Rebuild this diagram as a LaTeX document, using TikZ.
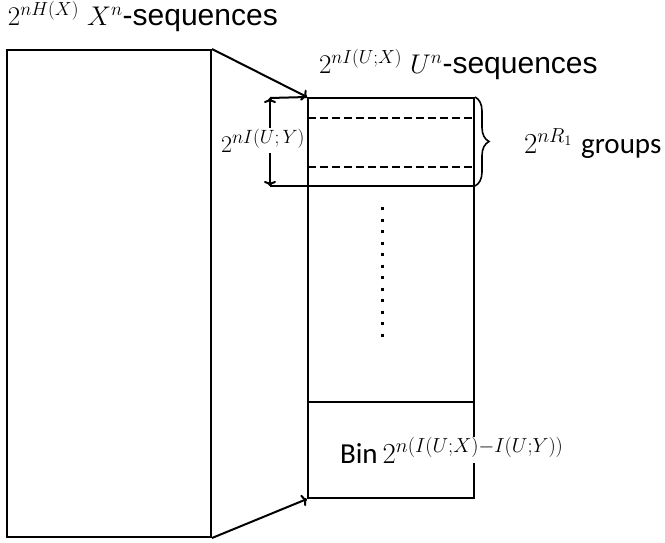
\documentclass[tikz,border=0pt]{standalone}
\usepackage{fix-cm}
\usepackage{fontspec}
\usetikzlibrary{decorations.pathreplacing, arrows.meta}
\newfontfamily\arialfont{Liberation Sans}
\newfontfamily\calibfont{Carlito}
\newcommand{\seqword}{{\arialfont\fontsize{30}{32}\selectfont -sequences}}
\tikzset{
  seqlabel/.style={inner sep=0pt, anchor=base west, font=\fontsize{27}{30}\selectfont},
  grouplabel/.style={inner sep=0pt, anchor=base west, font=\fontsize{29}{31}\selectfont},
  dashline/.style={dash pattern=on 8pt off 4pt},
  dotline/.style={line width=3pt, dash pattern=on 3pt off 8.5pt}
}
\begin{document}
\begin{tikzpicture}[x=1pt, y=-1pt, line width=2pt, >={To[length=5pt, width=12pt]}]
\useasboundingbox (0,0) rectangle (665,542);
\node[seqlabel] (xlabel) at (7,25) {$2^{nH(X)}$ $X^n$\seqword};
\node[draw, rectangle, minimum width=204pt, minimum height=487pt] (xbox) at (109,293.5) {};
\coordinate (gtop) at (270,98);
\coordinate (gbot) at (270,186);
\draw[<->] (gtop) -- (gbot);
\node[fill=white, inner sep=1pt, anchor=base east, font=\fontsize{24}{26}\selectfont] (iuy) at (307,152) {$2^{\scalebox{0.8}{$\textstyle nI(U;Y)$}}$};
\node[draw, rectangle, minimum width=166pt, minimum height=400pt] (ubox) at (391,298) {};
\node[seqlabel] (ulabel) at (318,73) {$2^{nI(U;X)}$ $U^n$\seqword};
\draw (gtop) -- (ubox.north west);
\draw (gbot) -- (gbot -| ubox.east);
\coordinate (d1) at (308,118);
\coordinate (d2) at (308,167);
\draw[dashline] (d1) -- (d1 -| ubox.east);
\draw[dashline] (d2) -- (d2 -| ubox.east);
\draw[line width=1.6pt, decorate, decoration={brace, amplitude=14pt}] (ubox.north east) -- (gbot -| ubox.east);
\node[grouplabel] (groups) at (523,153) {$2^{nR_1}$ {\calibfont groups}};
\draw[dotline] (382,207) -- (382,340);
\coordinate (binl) at (308,402);
\draw (binl) -- (binl -| ubox.east);
\node[grouplabel, fill=white] (bin) at (339,463) {{\calibfont Bin}\hspace{5pt}$2^{n(I(U;X)-I(U;Y))}$};
\draw[->] (xbox.north east) -- (ubox.north west);
\draw[->] (xbox.south east) -- (ubox.south west);
\end{tikzpicture}
\end{document}
